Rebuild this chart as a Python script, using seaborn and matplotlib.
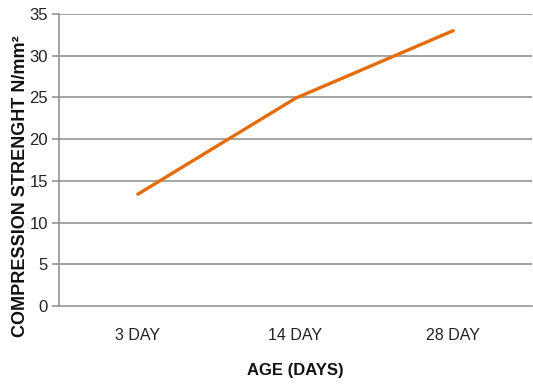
import matplotlib
matplotlib.use("Agg")
import matplotlib.pyplot as plt
import seaborn as sns
import pandas as pd

ages = ["3 DAY", "14 DAY", "28 DAY"]
strength = [13.4, 24.9, 33.0]
y_ticks = [0, 5, 10, 15, 20, 25, 30, 35]

sns.set_theme(style="white")
plt.rcParams["font.family"] = ["Liberation Sans", "DejaVu Sans"]

df = pd.DataFrame({"age": ages, "strength": strength})

fig = plt.figure(figsize=(5.33, 3.85), dpi=100)
ax = fig.add_axes([59 / 533, 1 - 306 / 385, (532 - 59) / 533, (306 - 14) / 385])

sns.lineplot(data=df, x="age", y="strength", sort=False, color="#E46C0A",
             linewidth=2.4, ax=ax)

ax.set_xlim(-0.5, 2.5)
ax.set_ylim(0, 35)
ax.set_yticks(y_ticks)
for y in y_ticks[1:]:
    ax.axhline(y, color="#8c8c8c", linewidth=1.1, zorder=0)

for side in ["top", "right"]:
    ax.spines[side].set_visible(False)
for side in ["left", "bottom"]:
    ax.spines[side].set_color("#8c8c8c")
    ax.spines[side].set_linewidth(1.1)

ax.tick_params(axis="y", length=5, width=1.1, color="#8c8c8c", left=True,
               labelsize=12, labelcolor="#222222", pad=3)
ax.tick_params(axis="x", length=0, labelsize=11.5, labelcolor="#222222", pad=16)

ax.set_xlabel("AGE (DAYS)", fontsize=12, fontweight="bold", color="#111111", labelpad=14)
ax.set_ylabel("COMPRESSION STRENGHT N/mm²", fontsize=13, fontweight="bold",
              color="#111111")
ax.yaxis.set_label_coords(-0.063, 0.41)

fig.savefig("out.png", dpi=100)
